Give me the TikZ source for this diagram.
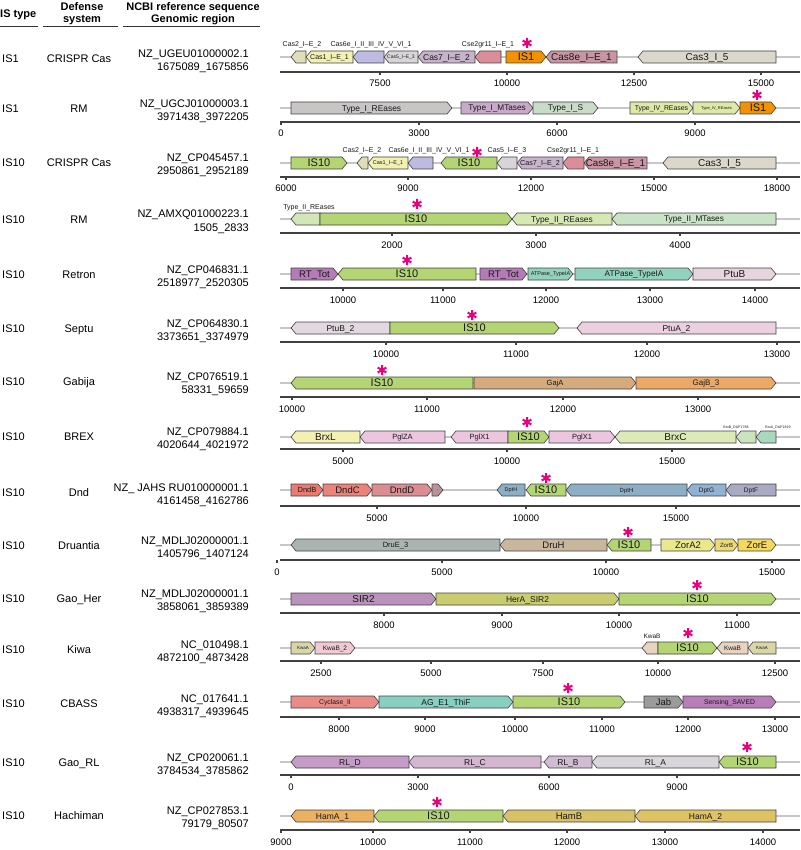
\documentclass[tikz,border=0pt]{standalone}
\usepackage{fontspec}
\setmainfont{Liberation Sans}
\usepackage{tikz}
\usetikzlibrary{positioning}

\definecolor{isten}{HTML}{B3D574}
\definecolor{isone}{HTML}{F39200}
\definecolor{asterisk}{HTML}{E6007E}
\definecolor{castwo}{HTML}{E0DDB9}
\definecolor{casone}{HTML}{F3F0B3}
\definecolor{cassix}{HTML}{BDBBE0}
\definecolor{casfive}{HTML}{D8D5D8}
\definecolor{casseven}{HTML}{C8B3CC}
\definecolor{csetwo}{HTML}{DB8E9A}
\definecolor{caseight}{HTML}{C995A4}
\definecolor{casthree}{HTML}{DBD7CA}
\definecolor{typeIre}{HTML}{C8C5C5}
\definecolor{typeImt}{HTML}{C8A9C9}
\definecolor{typeIs}{HTML}{C9DCC7}
\definecolor{typeIV}{HTML}{DEE9A7}
\definecolor{typeIIsm}{HTML}{D3E6B7}
\definecolor{typeIIre}{HTML}{D7E9B3}
\definecolor{typeIImt}{HTML}{C8E3C6}
\definecolor{rttot}{HTML}{B57BB7}
\definecolor{atpase}{HTML}{93D2BE}
\definecolor{ptub}{HTML}{E6D4DE}
\definecolor{ptubtwo}{HTML}{E3D7E0}
\definecolor{ptua}{HTML}{ECCFE1}
\definecolor{gaja}{HTML}{D5AA7D}
\definecolor{gajb}{HTML}{EDA866}
\definecolor{brxl}{HTML}{F3F1B2}
\definecolor{pglz}{HTML}{ECC6DE}
\definecolor{brxc}{HTML}{DCEAB7}
\definecolor{brxb}{HTML}{CCE4BD}
\definecolor{brxa}{HTML}{A9D9BC}
\definecolor{dndb}{HTML}{E97A70}
\definecolor{dndc}{HTML}{EA8379}
\definecolor{dndd}{HTML}{DB8D91}
\definecolor{dndsm}{HTML}{B99299}
\definecolor{dpth}{HTML}{8CAFC5}
\definecolor{dptg}{HTML}{91B2D3}
\definecolor{dptf}{HTML}{A9A9C3}
\definecolor{drue}{HTML}{AAB5B1}
\definecolor{druh}{HTML}{C9B79D}
\definecolor{zora}{HTML}{E9E98C}
\definecolor{zorb}{HTML}{EBDB72}
\definecolor{zore}{HTML}{F5D95E}
\definecolor{sirtwo}{HTML}{BA91BD}
\definecolor{hera}{HTML}{C9CD70}
\definecolor{kwaa}{HTML}{D8D6A6}
\definecolor{kwabtwo}{HTML}{F0C9D2}
\definecolor{kwab}{HTML}{E8D3C0}
\definecolor{cyclase}{HTML}{E98B86}
\definecolor{thif}{HTML}{86CFC1}
\definecolor{jab}{HTML}{9B9B9B}
\definecolor{saved}{HTML}{B97EBA}
\definecolor{rld}{HTML}{C59BC8}
\definecolor{rlc}{HTML}{D4B6D0}
\definecolor{rlb}{HTML}{D1BCD3}
\definecolor{rla}{HTML}{D8D6DA}
\definecolor{hamaone}{HTML}{EBB163}
\definecolor{hamb}{HTML}{D8C167}
\definecolor{hamatwo}{HTML}{DEC264}

% gene label, centred on the arrow
\newcommand{\genetext}[5]{%
  \if\relax\detokenize{#5}\relax\else
  \node[genelabel, anchor=base, font=\fontsize{#4}{#4}\selectfont] at ({(#1+#2)/2},{#3+0.36*#4}) {#5};\fi}
% forward gene: from, to, y, colour, size, label
\newcommand{\fgene}[6]{%
  \draw[gene, fill=#4] (#1,#3-6) -- ({max(#1,#2-5)},#3-6) -- (#2,#3)
    -- ({max(#1,#2-5)},#3+6) -- (#1,#3+6) -- cycle;
  \genetext{#1}{#2}{#3}{#5}{#6}}
% reverse gene: from, to, y, colour, size, label
\newcommand{\rgene}[6]{%
  \draw[gene, fill=#4] (#1,#3) -- ({min(#2,#1+5)},#3-6) -- (#2,#3-6)
    -- (#2,#3+6) -- ({min(#2,#1+5)},#3+6) -- cycle;
  \genetext{#1}{#2}{#3}{#5}{#6}}
% small label above a gene
\newcommand{\toplabel}[4]{%
  \node[genelabel, anchor=base, font=\fontsize{#3}{#3}\selectfont] at (#1,#2) {#4};}
\newcommand{\track}[1]{\draw[trackline] (280,#1) -- (800,#1);}
\newcommand{\ruler}[2]{%
  \draw[axisline] (280,#1) -- (800,#1);
  \foreach \tx/\tl in {#2} {
    \draw[axisline] (\tx,#1) -- (\tx,#1+3);
    \node[ticklabel, anchor=base] at (\tx,#1+15) {\tl};
  }}
\newcommand{\isstar}[2]{%
  \draw[starline, shift={(#1,#2)}] (90:5) -- (270:5) (30:5) -- (210:5) (150:5) -- (330:5);}
\newcommand{\rowinfo}[5]{%
  \node[infotext, anchor=base west] at (2,#1+4) {#2};
  \node[infotext, anchor=base] at (79,#1+4) {#3};
  \node[infotext, anchor=base east] at (249,#1-1) {#4};
  \node[infotext, anchor=base east] at (249,#1+12) {#5};}

\begin{document}
\begin{tikzpicture}[
    x=1pt, y=-1pt,
    gene/.style={draw=black!75, line width=0.6pt, line join=miter},
    genelabel/.style={inner sep=0pt, text=black!90},
    trackline/.style={draw=black!22, line width=2.6pt},
    axisline/.style={draw=black!75, line width=1.1pt},
    ticklabel/.style={inner sep=0pt, font=\fontsize{9.5}{9.5}\selectfont},
    infotext/.style={inner sep=0pt, font=\fontsize{11}{11}\selectfont},
    headtext/.style={inner sep=0pt, font=\fontsize{11}{11}\selectfont\bfseries},
    headrule/.style={draw=black!80, line width=1pt},
    starline/.style={draw=asterisk, line width=2pt},
]
\useasboundingbox (0,0) rectangle (800,850);

% Header
\node[headtext, anchor=base west] (htype) at (0,17.5) {IS type};
\node[headtext, anchor=base] (hsys) at (82,11) {Defense};
\node[headtext, anchor=base] at (82,23) {system};
\node[headtext, anchor=base] (hncbi) at (193,11) {NCBI reference sequence};
\node[headtext, anchor=base] at (193,23) {Genomic region};
\draw[headrule] (0,27) -- (38,27);
\draw[headrule] (43,27) -- (118,27);
\draw[headrule] (123,27) -- (260,27);

% IS1 - CRISPR Cas
\rowinfo{59}{IS1}{CRISPR Cas}{NZ\_UGEU01000002.1}{1675089\_1675856}
\track{57}
\rgene{291}{306}{57}{castwo}{7}{}
\rgene{306}{353}{57}{casone}{7}{Cas1\_I--E\_1}
\rgene{353}{384}{57}{cassix}{7}{}
\rgene{384}{418}{57}{casfive}{5}{Cas5\_I--E\_3}
\rgene{418}{475}{57}{casseven}{8.5}{Cas7\_I--E\_2}
\rgene{475}{501}{57}{csetwo}{7}{}
\fgene{506}{546}{57}{isone}{11}{IS1}
\rgene{546}{617}{57}{caseight}{10}{Cas8e\_I--E\_1}
\rgene{638}{776}{57}{casthree}{10}{Cas3\_I\_5}
\toplabel{302}{46.5}{7}{Cas2\_I--E\_2}
\toplabel{371}{46.5}{7}{Cas6e\_I\_II\_III\_IV\_V\_VI\_1}
\toplabel{488}{46.5}{7}{Cse2gr11\_I--E\_1}
\ruler{72}{380/7500, 507/10000, 634/12500, 761/15000}
\isstar{527}{43}

% IS1 - RM
\rowinfo{109}{IS1}{RM}{NZ\_UGCJ01000003.1}{3971438\_3972205}
\track{108}
\fgene{291}{452}{108}{typeIre}{8.4}{Type\_I\_REases}
\fgene{461}{533}{108}{typeImt}{8.2}{Type\_I\_MTases}
\fgene{533}{598}{108}{typeIs}{8.3}{Type\_I\_S}
\fgene{630}{693}{108}{typeIV}{6.9}{Type\_IV\_REases}
\fgene{693}{740}{108}{typeIV}{4}{Type\_IV\_REases}
\fgene{740}{776}{108}{isone}{11}{IS1}
\ruler{122}{281/0, 419/3000, 557/6000, 695/9000}
\isstar{757}{95}

% IS10 - CRISPR Cas
\rowinfo{163}{IS10}{CRISPR Cas}{NZ\_CP045457.1}{2950861\_2952189}
\track{163}
\fgene{291}{347}{163}{isten}{11}{IS10}
\rgene{357}{368}{163}{castwo}{7}{}
\rgene{368}{408}{163}{casone}{5.5}{Cas1\_I--E\_1}
\rgene{408}{433}{163}{cassix}{7}{}
\rgene{441}{497}{163}{isten}{11}{IS10}
\rgene{497}{517}{163}{casfive}{7}{}
\rgene{517}{563}{163}{casseven}{7.2}{Cas7\_I--E\_2}
\rgene{563}{584}{163}{csetwo}{7}{}
\rgene{584}{647}{163}{caseight}{9.8}{Cas8e\_I--E\_1}
\rgene{663}{776}{163}{casthree}{10}{Cas3\_I\_5}
\toplabel{362}{152.5}{7}{Cas2\_I--E\_2}
\toplabel{429}{152.5}{7}{Cas6e\_I\_II\_III\_IV\_V\_VI\_1}
\toplabel{507}{152.5}{7}{Cas5\_I--E\_3}
\toplabel{573}{152.5}{7}{Cse2gr11\_I--E\_1}
\ruler{177}{286/6000, 408/9000, 531/12000, 654/15000, 777/18000}
\isstar{477}{152}

% IS10 - RM
\rowinfo{219}{IS10}{RM}{NZ\_AMXQ01000223.1}{1505\_2833}
\track{219}
\rgene{291}{320}{219}{typeIIsm}{7}{}
\fgene{320}{512}{219}{isten}{11}{IS10}
\rgene{512}{612}{219}{typeIIre}{8.4}{Type\_II\_REases}
\rgene{612}{776}{219}{typeIImt}{8.2}{Type\_II\_MTases}
\toplabel{309}{209.5}{7}{Type\_II\_REases}
\ruler{233}{392/2000, 536/3000, 680/4000}
\isstar{417}{204}

% IS10 - Retron
\rowinfo{274}{IS10}{Retron}{NZ\_CP046831.1}{2518977\_2520305}
\track{274}
\fgene{291}{338}{274}{rttot}{9.6}{RT\_Tot}
\rgene{338}{476}{274}{isten}{11}{IS10}
\fgene{480}{527}{274}{rttot}{9.6}{RT\_Tot}
\fgene{528}{573}{274}{atpase}{5.5}{ATPase\_TypeIA}
\fgene{575}{693}{274}{atpase}{8.2}{ATPase\_TypeIA}
\fgene{693}{776}{274}{ptub}{10}{PtuB}
\ruler{288}{343/10000, 443/11000, 546/12000, 650/13000, 755/14000}
\isstar{407}{260}

% IS10 - Septu
\rowinfo{328}{IS10}{Septu}{NZ\_CP064830.1}{3373651\_3374979}
\track{328}
\rgene{291}{390}{328}{ptubtwo}{8.5}{PtuB\_2}
\fgene{390}{559}{328}{isten}{11}{IS10}
\rgene{577}{776}{328}{ptua}{8.5}{PtuA\_2}
\ruler{342}{386/10000, 516/11000, 647/12000, 777/13000}
\isstar{472}{315}

% IS10 - Gabija
\rowinfo{381}{IS10}{Gabija}{NZ\_CP076519.1}{58331\_59659}
\track{383}
\rgene{291}{473}{383}{isten}{11}{IS10}
\fgene{474}{636}{383}{gaja}{7.5}{GajA}
\fgene{636}{776}{383}{gajb}{8}{GajB\_3}
\ruler{397}{292/10000, 427/11000, 563/12000, 698/13000}
\isstar{382}{370}

% IS10 - BREX
\rowinfo{436}{IS10}{BREX}{NZ\_CP079884.1}{4020644\_4021972}
\track{437}
\rgene{291}{360}{437}{brxl}{10}{BrxL}
\rgene{360}{445}{437}{pglz}{7.5}{PglZA}
\rgene{451}{508}{437}{pglz}{7.5}{PglX1}
\fgene{508}{549}{437}{isten}{11}{IS10}
\fgene{549}{615}{437}{pglz}{7.5}{PglX1}
\rgene{615}{736}{437}{brxc}{10}{BrxC}
\rgene{736}{756}{437}{brxb}{7}{}
\rgene{756}{776}{437}{brxa}{7}{}
\toplabel{736}{428}{3.6}{BrxB\_DUF1788}
\toplabel{778}{428}{3.6}{BrxA\_DUF1819}
\ruler{449}{343/5000, 507/10000, 672/15000}
\isstar{527}{422}

% IS10 - Dnd
\rowinfo{492}{IS10}{Dnd}{NZ\_ JAHS RU010000001.1}{4161458\_4162786}
\track{490}
\fgene{291}{323}{490}{dndb}{7.5}{DndB}
\fgene{323}{372}{490}{dndc}{9.5}{DndC}
\fgene{372}{432}{490}{dndd}{9.5}{DndD}
\fgene{432}{443}{490}{dndsm}{4}{-}
\rgene{497}{525}{490}{dpth}{5.5}{DptH}
\rgene{526}{566}{490}{isten}{11}{IS10}
\rgene{566}{687}{490}{dpth}{6}{DptH}
\rgene{687}{726}{490}{dptg}{6.5}{DptG}
\rgene{726}{776}{490}{dptf}{6.5}{DptF}
\ruler{506}{377/5000, 526/10000, 676/15000}
\isstar{546}{478}

% IS10 - Druantia
\rowinfo{545}{IS10}{Druantia}{NZ\_MDLJ02000001.1}{1405796\_1407124}
\track{545}
\rgene{291}{500}{545}{drue}{7.5}{DruE\_3}
\rgene{500}{607}{545}{druh}{9.5}{DruH}
\rgene{607}{651}{545}{isten}{11}{IS10}
\fgene{661}{715}{545}{zora}{9.5}{ZorA2}
\fgene{715}{738}{545}{zorb}{6}{ZorB}
\fgene{738}{776}{545}{zore}{9.5}{ZorE}
\ruler{560}{277/0, 442/5000, 606/10000, 772/15000}
\isstar{628}{532}

% IS10 - Gao_Her
\rowinfo{598}{IS10}{Gao\_Her}{NZ\_MDLJ02000001.1}{3858061\_3859389}
\track{599}
\fgene{291}{436}{599}{sirtwo}{10}{SIR2}
\fgene{436}{619}{599}{hera}{8.5}{HerA\_SIR2}
\fgene{619}{776}{599}{isten}{11}{IS10}
\ruler{613}{384/8000, 502/9000, 619/10000, 737/11000}
\isstar{697}{585}

% IS10 - Kiwa
\rowinfo{649}{IS10}{Kiwa}{NC\_010498.1}{4872100\_4873428}
\track{648}
\fgene{291}{315}{648}{kwaa}{4.5}{KwaA}
\fgene{315}{355}{648}{kwabtwo}{6.5}{KwaB\_2}
\rgene{642}{658}{648}{kwab}{7}{}
\fgene{658}{717}{648}{isten}{11}{IS10}
\rgene{717}{748}{648}{kwab}{6.5}{KwaB}
\rgene{748}{776}{648}{kwaa}{4.5}{KwaA}
\toplabel{652}{638.5}{6.5}{KwaB}
\ruler{661}{321/2500, 431/5000, 543/7500, 658/10000, 775/12500}
\isstar{688}{633}

% IS10 - CBASS
\rowinfo{703}{IS10}{CBASS}{NC\_017641.1}{4938317\_4939645}
\track{702}
\fgene{291}{379}{702}{cyclase}{6.8}{Cyclase\_II}
\fgene{379}{513}{702}{thif}{8.5}{AG\_E1\_ThiF}
\fgene{513}{625}{702}{isten}{11}{IS10}
\fgene{644}{683}{702}{jab}{9.5}{Jab}
\fgene{683}{776}{702}{saved}{6.8}{Sensing\_SAVED}
\ruler{717}{339/8000, 425/9000, 515/10000, 602/11000, 688/12000, 775/13000}
\isstar{568}{688}

% IS10 - Gao_RL
\rowinfo{762}{IS10}{Gao\_RL}{NZ\_CP020061.1}{3784534\_3785862}
\track{762}
\rgene{291}{409}{762}{rld}{8.5}{RL\_D}
\rgene{409}{541}{762}{rlc}{8.5}{RL\_C}
\rgene{544}{592}{762}{rlb}{8.5}{RL\_B}
\rgene{592}{719}{762}{rla}{8.5}{RL\_A}
\rgene{719}{776}{762}{isten}{11}{IS10}
\ruler{775}{291/0, 418/3000, 549/6000, 677/9000}
\isstar{747}{747}

% IS10 - Hachiman
\rowinfo{815}{IS10}{Hachiman}{NZ\_CP027853.1}{79179\_80507}
\track{816}
\rgene{291}{374}{816}{hamaone}{8.5}{HamA\_1}
\rgene{374}{503}{816}{isten}{11}{IS10}
\rgene{503}{635}{816}{hamb}{9.5}{HamB}
\rgene{635}{776}{816}{hamatwo}{8.5}{HamA\_2}
\ruler{830}{281/9000, 373/10000, 470/11000, 567/12000, 665/13000, 763/14000}
\isstar{437}{802}

\end{tikzpicture}
\end{document}
